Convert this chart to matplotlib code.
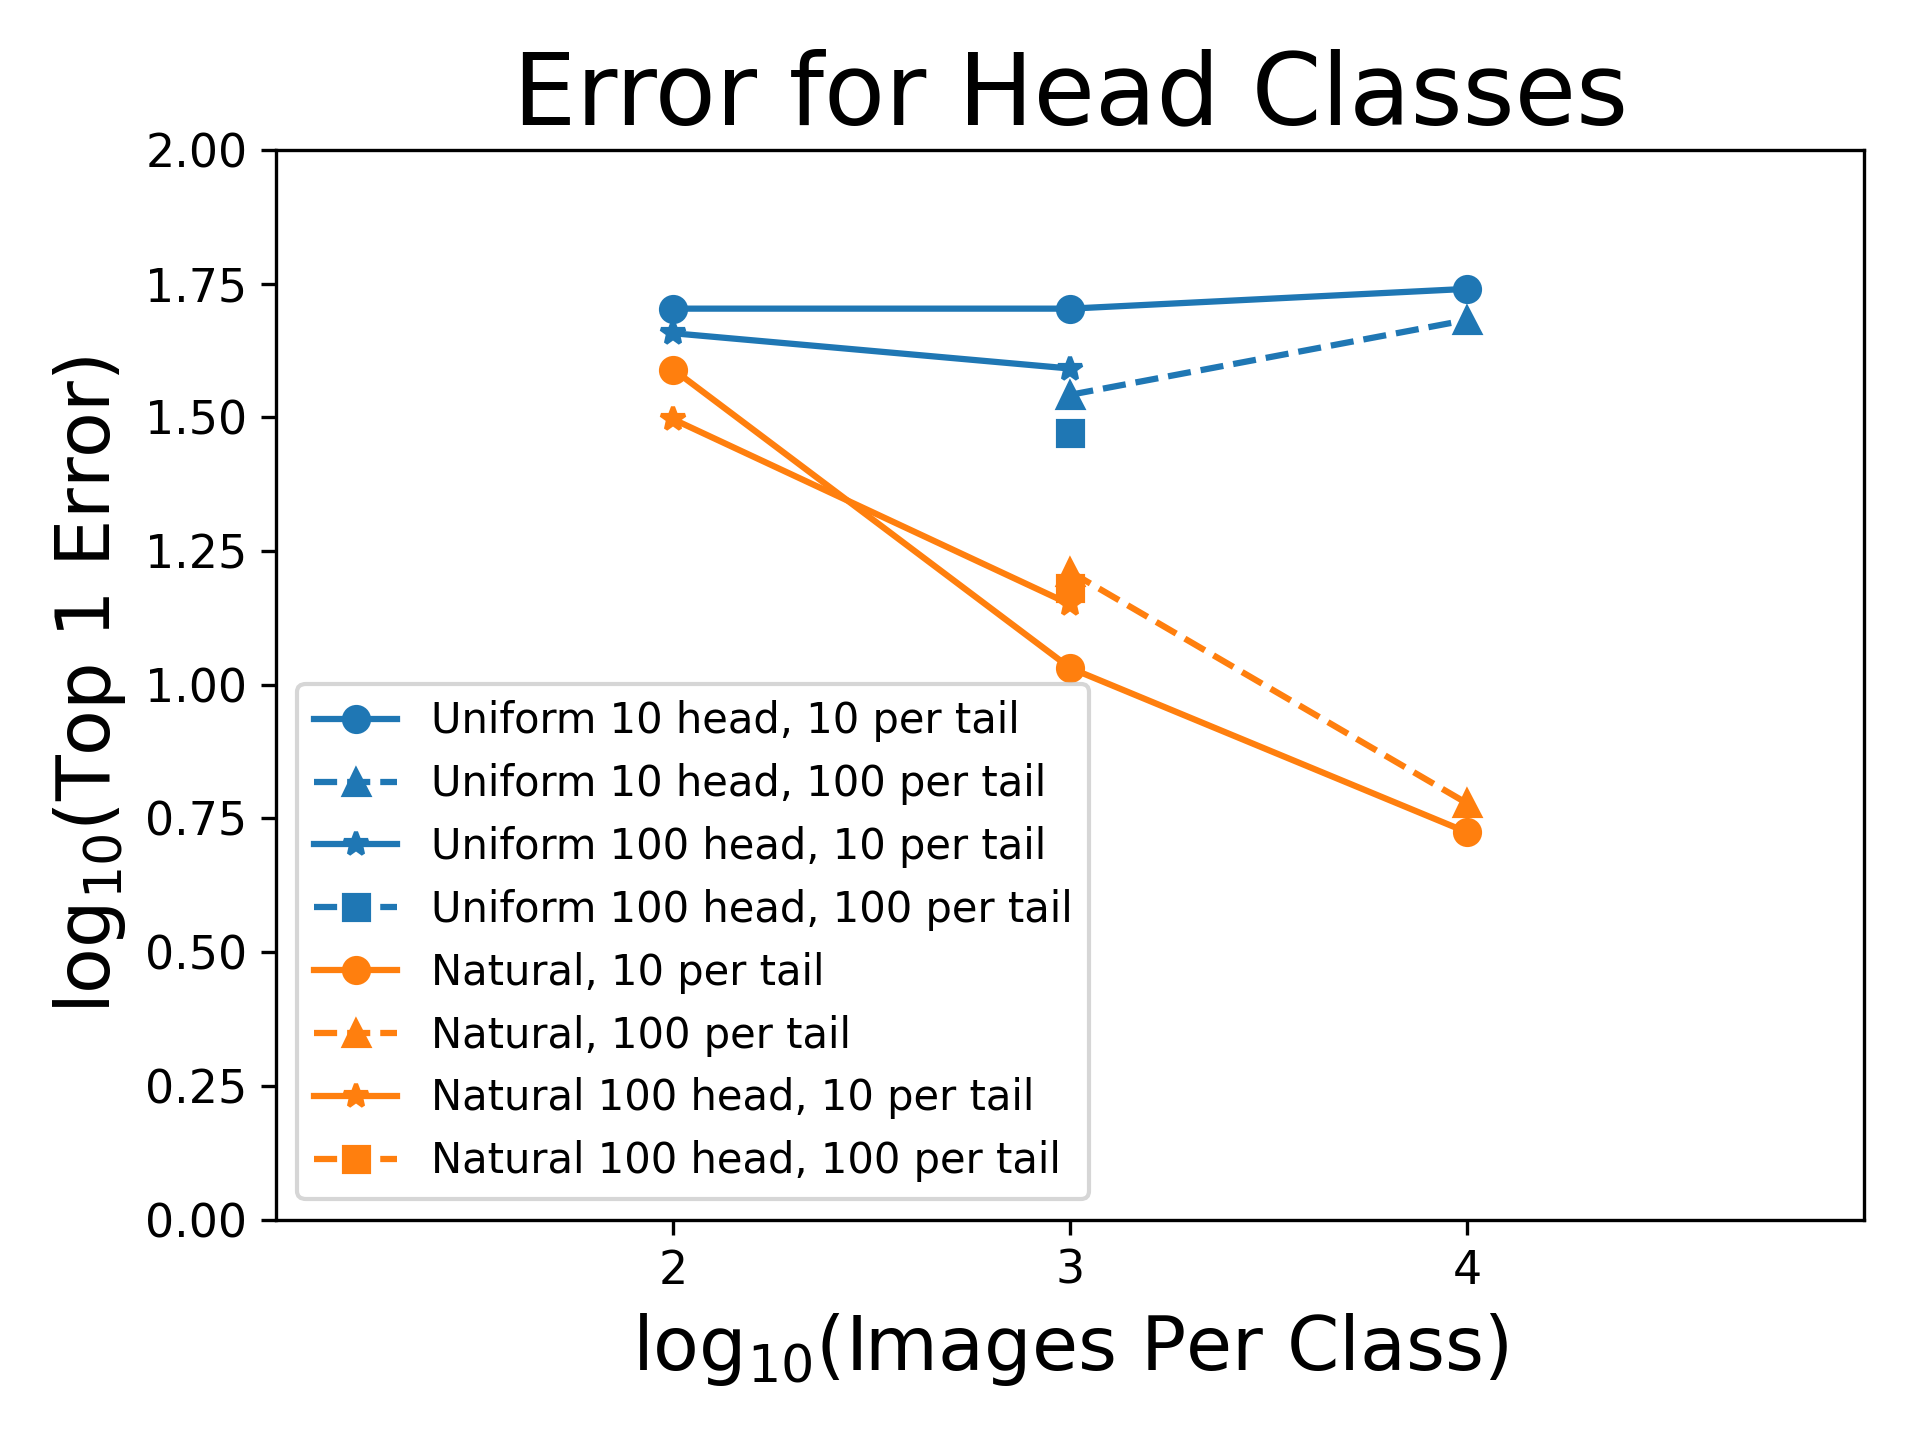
import matplotlib
matplotlib.use("Agg")
import matplotlib.pyplot as plt

# log10(images per class) and log10(top-1 error) for each setting
labels = [
    "Uniform 10 head, 10 per tail",
    "Uniform 10 head, 100 per tail",
    "Uniform 100 head, 10 per tail",
    "Uniform 100 head, 100 per tail",
    "Natural, 10 per tail",
    "Natural, 100 per tail",
    "Natural 100 head, 10 per tail",
    "Natural 100 head, 100 per tail",
]
x_vals = [
    [2, 3, 4],
    [3, 4],
    [2, 3],
    [3],
    [2, 3, 4],
    [3, 4],
    [2, 3],
    [3],
]
y_vals = [
    [1.703, 1.703, 1.740],
    [1.542, 1.682],
    [1.657, 1.591],
    [1.471],
    [1.589, 1.031, 0.724],
    [1.211, 0.778],
    [1.496, 1.150],
    [1.180],
]
colors = ["#1f77b4"] * 4 + ["#ff7f0e"] * 4
markers = ["o", "^", "*", "s"] * 2
styles = ["-", "--", "-", "--"] * 2

fig = plt.figure(figsize=(6.4, 4.8), dpi=300)
ax = fig.add_axes([0.144, 0.153, 0.827, 0.743])

for xs, ys, lab, c, m, ls in zip(x_vals, y_vals, labels, colors, markers, styles):
    ax.plot(xs, ys, color=c, marker=m, linestyle=ls, label=lab)

ax.set_xlim(1, 5)
ax.set_ylim(0, 2)
ax.set_xticks([2, 3, 4])
ax.set_yticks([0, 0.25, 0.5, 0.75, 1.0, 1.25, 1.5, 1.75, 2.0])
ax.set_yticklabels(["0.00", "0.25", "0.50", "0.75", "1.00", "1.25", "1.50", "1.75", "2.00"])
ax.tick_params(labelsize=11)
ax.set_xlabel(r"log$_{10}$(Images Per Class)", fontsize=18)
ax.set_ylabel(r"log$_{10}$(Top 1 Error)", fontsize=18)
ax.set_title("Error for Head Classes", fontsize=24)
ax.legend(loc="lower left")

fig.savefig("out.png", dpi=300)
